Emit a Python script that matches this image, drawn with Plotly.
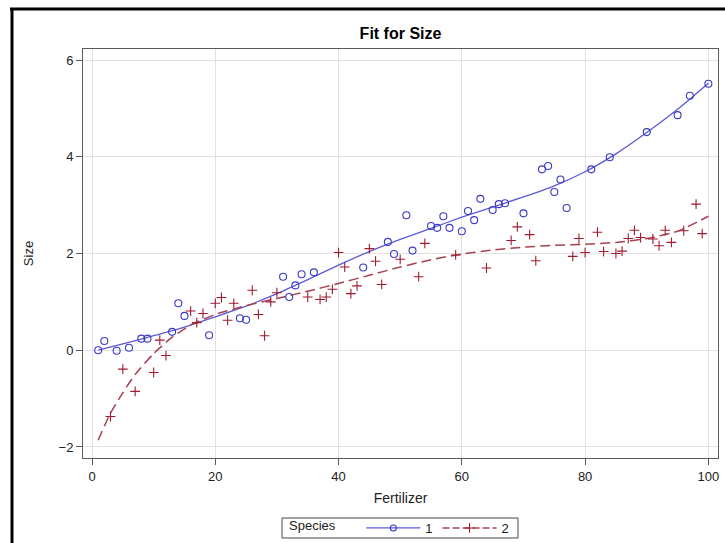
import plotly.graph_objects as go

# Species 1 observations
sp1_x = [1, 2, 4, 6, 8, 9, 13, 14, 15, 19, 24, 25, 31, 32, 33, 34, 36, 44, 48, 49,
         51, 52, 55, 56, 57, 58, 60, 61, 62, 63, 65, 66, 67, 70, 73, 74, 75, 76, 77,
         81, 84, 90, 95, 97, 100]
sp1_y = [0.0, 0.19, -0.01, 0.05, 0.24, 0.24, 0.38, 0.97, 0.71, 0.31, 0.66, 0.63, 1.52,
         1.10, 1.34, 1.57, 1.61, 1.71, 2.24, 1.99, 2.79, 2.06, 2.57, 2.53, 2.77, 2.53,
         2.46, 2.88, 2.69, 3.13, 2.90, 3.02, 3.04, 2.83, 3.74, 3.81, 3.27, 3.53, 2.94,
         3.74, 3.99, 4.51, 4.86, 5.26, 5.51]

# Species 2 observations
sp2_x = [3, 5, 7, 10, 11, 12, 16, 17, 18, 20, 21, 22, 23, 26, 27, 28, 29, 30, 35, 37,
         38, 39, 40, 41, 42, 43, 45, 46, 47, 50, 53, 54, 59, 64, 68, 69, 71, 72, 78, 79,
         80, 82, 83, 85, 86, 87, 88, 89, 91, 92, 93, 94, 96, 98, 99]
sp2_y = [-1.37, -0.39, -0.85, -0.46, 0.21, -0.11, 0.81, 0.57, 0.76, 0.97, 1.09, 0.62,
         0.97, 1.24, 0.74, 0.30, 1.00, 1.19, 1.10, 1.05, 1.10, 1.26, 2.02, 1.72, 1.17,
         1.33, 2.10, 1.84, 1.36, 1.88, 1.52, 2.21, 1.97, 1.70, 2.27, 2.55, 2.39, 1.85,
         1.94, 2.31, 2.02, 2.44, 2.04, 2.00, 2.05, 2.31, 2.48, 2.33, 2.30, 2.16, 2.48,
         2.23, 2.47, 3.02, 2.41]

# Fitted curves
fit1_x = [1, 5, 10, 15, 20, 25, 30, 35, 40, 45, 50, 55, 60, 65, 70, 75, 80, 85, 90, 95, 100]
fit1_y = [0.0, 0.13, 0.30, 0.48, 0.69, 0.91, 1.17, 1.46, 1.76, 2.04, 2.29, 2.52, 2.75,
          2.96, 3.17, 3.40, 3.69, 4.06, 4.50, 4.98, 5.52]
fit2_x = [1, 3, 5, 7, 10, 13, 16, 20, 25, 30, 35, 40, 45, 50, 55, 60, 65, 70, 75, 80, 85, 90, 95, 100]
fit2_y = [-1.86, -1.30, -0.88, -0.50, -0.07, 0.27, 0.52, 0.74, 0.92, 1.07, 1.22, 1.38,
          1.55, 1.72, 1.87, 1.99, 2.07, 2.13, 2.17, 2.19, 2.23, 2.31, 2.46, 2.77]

x_ticks = [0, 20, 40, 60, 80, 100]
y_ticks = [-2, 0, 2, 4, 6]

BLUE_M = "#3a3ac4"
BLUE_L = "#5a5ad8"
RED_M = "#a01a30"
RED_L = "#a8404f"
FONT = "Liberation Sans, Arial, sans-serif"

fig = go.Figure()
fig.add_trace(go.Scatter(x=fit1_x, y=fit1_y, mode="lines", showlegend=False,
                         line=dict(color=BLUE_L, width=1.3, shape="spline", smoothing=0.6)))
fig.add_trace(go.Scatter(x=fit2_x, y=fit2_y, mode="lines", showlegend=False,
                         line=dict(color=RED_L, width=1.5, dash="10px,5px", shape="spline", smoothing=0.6)))
fig.add_trace(go.Scatter(x=sp1_x, y=sp1_y, mode="markers", showlegend=False,
                         marker=dict(symbol="circle-open", size=7, color=BLUE_M, line=dict(width=1.1, color=BLUE_M))))
fig.add_trace(go.Scatter(x=sp2_x, y=sp2_y, mode="markers", showlegend=False,
                         marker=dict(symbol="cross-thin-open", size=7, color=RED_M, line=dict(width=1.1, color=RED_M))))
# legend entries
fig.add_trace(go.Scatter(x=[None], y=[None], mode="lines+markers", name="1",
                         line=dict(color=BLUE_L, width=1.3),
                         marker=dict(symbol="circle-open", size=6, color=BLUE_M, line=dict(width=1.1, color=BLUE_M))))
fig.add_trace(go.Scatter(x=[None], y=[None], mode="lines+markers", name="2",
                         line=dict(color=RED_L, width=1.5, dash="7px,3px"),
                         marker=dict(symbol="cross-thin-open", size=7, color=RED_M, line=dict(width=1.1, color=RED_M))))

W, H = 725, 543
L, R, T, B = 83, 7, 49, 85
pw, ph = W - L - R, H - T - B
def px(x):
    return (x - L) / pw
def py(y):
    return (H - B - y) / ph

# outer black frame of the screenshot
fig.add_shape(type="line", xref="paper", yref="paper", x0=px(10), x1=px(726), y0=py(9), y1=py(9),
              line=dict(color="black", width=3))
fig.add_shape(type="line", xref="paper", yref="paper", x0=px(12), x1=px(12), y0=py(8), y1=py(543),
              line=dict(color="black", width=3))
# legend frame
fig.add_shape(type="rect", xref="paper", yref="paper", x0=px(282), x1=px(518), y0=py(518), y1=py(538),
              line=dict(color="#444", width=1), fillcolor="rgba(0,0,0,0)")

axis_common = dict(showgrid=True, gridcolor="#e2e2e2", gridwidth=1, zeroline=False,
                   showline=True, linecolor="#5a5a5a", linewidth=1, mirror=True,
                   ticks="outside", ticklen=6, tickcolor="#5a5a5a",
                   tickfont=dict(family=FONT, size=13, color="#222"))

fig.update_layout(
    width=W, height=H,
    margin=dict(l=L, r=R, t=T, b=B, autoexpand=False),
    paper_bgcolor="white", plot_bgcolor="white",
    title=dict(text="<b>Fit for Size</b>", x=0.5, xref="paper", xanchor="center",
               y=1 - 33 / H, yref="container", yanchor="middle",
               font=dict(family=FONT, size=16, color="black")),
    xaxis=dict(range=[-1.46, 101.56], tickvals=x_ticks, automargin=False,
               title=dict(text="Fertilizer", font=dict(family=FONT, size=14, color="#222"), standoff=10),
               **axis_common),
    yaxis=dict(range=[-2.228, 6.228], tickvals=y_ticks, automargin=False,
               title=dict(text="Size", font=dict(family=FONT, size=13, color="#222"), standoff=22),
               **axis_common),
    legend=dict(orientation="h", x=0.5, xanchor="center", xref="paper",
                y=(H - 528) / H, yref="container", yanchor="middle",
                borderwidth=0, bgcolor="rgba(0,0,0,0)",
                title=dict(text="Species     ", font=dict(family=FONT, size=13, color="#222"), side="left"),
                font=dict(family=FONT, size=13, color="#222"), itemwidth=54,
                tracegroupgap=0, valign="middle"),
    showlegend=True,
)

fig.write_html("out.html", config={"displayModeBar": False},
               post_script="document.body.style.margin='0';document.body.style.overflow='hidden';")
